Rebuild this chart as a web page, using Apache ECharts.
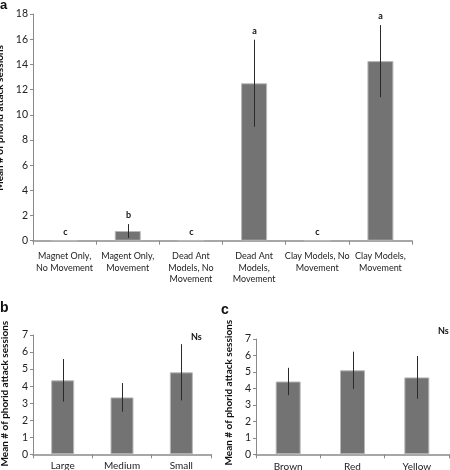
<!DOCTYPE html>
<html><head><meta charset="utf-8">
<script src="https://cdn.jsdelivr.net/npm/echarts@6/dist/echarts.min.js"></script>
<style>html,body{margin:0;padding:0;background:#fff}#c{width:450px;height:470px}</style>
</head><body><div id="c"></div>
<script>
// ---- data ----
const catsA = ['Magnet Only,\nNo Movement', 'Magent Only,\nMovement', 'Dead Ant\nModels, No\nMovement', 'Dead Ant\nModels,\nMovement', 'Clay Models, No\nMovement', 'Clay Models,\nMovement'];
const meansA = [0, 0.77, 0, 12.5, 0, 14.26];
const errA = [0, 0.55, 0, 3.46, 0, 2.86];
const lettersA = ['c', 'b', 'c', 'a', 'c', 'a'];

const catsB = ['Large', 'Medium', 'Small'];
const meansB = [4.34, 3.34, 4.81];
const errB = [1.25, 0.84, 1.65];

const catsC = ['Brown', 'Red', 'Yellow'];
const meansC = [4.42, 5.10, 4.67];
const errC = [0.83, 1.13, 1.30];

const yTitle = 'Mean # of phorid attack sessions';
const panelLabels = ['a', 'b', 'c'];
const nsText = 'Ns';

// ---- styling ----
const FONT = 'Lato';
const AXIS_COLOR = '#8a8a8a';
const BAR_COLOR = '#737373';

function errRender(letters) {
  return function (params, api) {
    const i = api.value(0), m = api.value(1), e = api.value(2);
    const top = api.coord([i, m + e]);
    const bot = api.coord([i, m - e]);
    const x = Math.round(top[0]) + 0.5;
    const children = [];
    if (e > 0) {
      children.push({ type: 'line', shape: { x1: x, y1: top[1], x2: x, y2: bot[1] },
        style: { stroke: '#2a2a2a', lineWidth: 1 } });
    }
    if (letters) {
      children.push({ type: 'text', x: x, y: top[1] - 9,
        style: { text: letters[params.dataIndex], align: 'center', verticalAlign: 'middle',
          font: 'bold 9px ' + FONT, fill: '#111' } });
    }
    return { type: 'group', children: children };
  };
}

function xAx(grid, data, fs, lh, margin) {
  return {
    type: 'category', gridIndex: grid, data: data,
    axisLine: { show: true, lineStyle: { color: AXIS_COLOR, width: 1.5 } },
    axisTick: { show: true, length: 4, lineStyle: { color: AXIS_COLOR } },
    axisLabel: { interval: 0, fontSize: fs, lineHeight: lh, color: '#222', margin: margin, fontFamily: FONT }
  };
}
function yAx(grid, max, interval, gap, pad) {
  return {
    type: 'value', gridIndex: grid, min: 0, max: max, interval: interval,
    splitLine: { show: false },
    axisLine: { show: true, lineStyle: { color: AXIS_COLOR, width: 1 } },
    axisTick: { show: true, length: 3, lineStyle: { color: AXIS_COLOR } },
    axisLabel: { fontSize: 10.5, color: '#222', margin: 5, fontFamily: FONT },
    name: yTitle, nameLocation: 'middle', nameRotate: 90, nameGap: gap,
    nameTextStyle: { fontSize: 10, fontWeight: 'bold', color: '#111', fontFamily: FONT, padding: pad }
  };
}

const chart = echarts.init(document.getElementById('c'), null, { renderer: 'canvas' });
chart.setOption({
  animation: false,
  backgroundColor: '#fff',
  grid: [
    { left: 33, top: 14, width: 379, height: 226.7, outerBoundsMode: 'none', containLabel: false },
    { left: 33, top: 335, width: 178, height: 119.3, outerBoundsMode: 'none', containLabel: false },
    { left: 256, top: 339, width: 193, height: 115.3, outerBoundsMode: 'none', containLabel: false }
  ],
  xAxis: [xAx(0, catsA, 9, 11.3, 10), xAx(1, catsB, 10, 12, 5), xAx(2, catsC, 10, 12, 6)],
  yAxis: [yAx(0, 18, 2, 23, [0, 0, 0, 19]), yAx(1, 7, 1, 23, [0, 0, 0, 2]), yAx(2, 7, 1, 22, [0, 0, 0, 8])],
  series: [
    { type: 'bar', xAxisIndex: 0, yAxisIndex: 0, data: meansA, barWidth: 26,
      itemStyle: { color: BAR_COLOR, borderColor: '#b8b8b8', borderWidth: 1 } },
    { type: 'bar', xAxisIndex: 1, yAxisIndex: 1, data: meansB, barWidth: 23,
      itemStyle: { color: BAR_COLOR, borderColor: '#b8b8b8', borderWidth: 1 } },
    { type: 'bar', xAxisIndex: 2, yAxisIndex: 2, data: meansC, barWidth: 25,
      itemStyle: { color: BAR_COLOR, borderColor: '#b8b8b8', borderWidth: 1 } },
    { type: 'custom', xAxisIndex: 0, yAxisIndex: 0, renderItem: errRender(lettersA),
      data: meansA.map((m, i) => [i, m, errA[i]]), z: 5 },
    { type: 'custom', xAxisIndex: 1, yAxisIndex: 1, renderItem: errRender(null),
      data: meansB.map((m, i) => [i, m, errB[i]]), z: 5 },
    { type: 'custom', xAxisIndex: 2, yAxisIndex: 2, renderItem: errRender(null),
      data: meansC.map((m, i) => [i, m, errC[i]]), z: 5 }
  ],
  graphic: [
    { type: 'text', left: 0, top: -1, style: { text: panelLabels[0], font: 'bold 13px "Liberation Sans"', fill: '#111' } },
    { type: 'text', left: 0, top: 301, style: { text: panelLabels[1], font: 'bold 14px "Liberation Sans"', fill: '#111' } },
    { type: 'text', left: 221, top: 303, style: { text: panelLabels[2], font: 'bold 14px "Liberation Sans"', fill: '#111' } },
    { type: 'text', left: 191, top: 333, style: { text: nsText, font: 'bold 9px ' + FONT, fill: '#111' } },
    { type: 'text', left: 438, top: 327, style: { text: nsText, font: 'bold 9px ' + FONT, fill: '#111' } }
  ]
});
</script></body></html>
